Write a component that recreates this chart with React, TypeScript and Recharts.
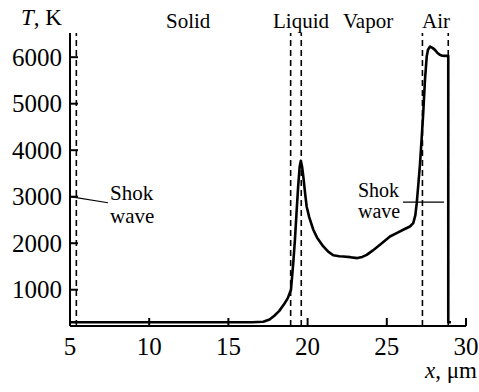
import React from "react";
import { LineChart, Line, XAxis, YAxis, ReferenceLine } from "recharts";

// Temperature profile across the target, x in micrometres, T in kelvin
const xValues = [
  5, 10, 15, 16.5, 17.2, 17.6, 17.9, 18.2, 18.5, 18.75, 18.95, 19.1, 19.2, 19.3, 19.4, 19.5,
  19.57, 19.65, 19.73, 19.85, 19.94, 20.1, 20.36, 20.6, 20.99, 21.3, 21.62, 22.0, 22.25, 22.7,
  23.14, 23.45, 23.73, 24.1, 24.57, 25.2, 25.62, 26.1, 26.46, 26.67, 26.8, 26.89, 27.0, 27.1,
  27.2, 27.3, 27.41, 27.52, 27.6, 27.73, 27.88, 28.04, 28.2, 28.36, 28.5, 28.67, 28.88, 28.88,
  29.05,
];
const tValues = [
  300, 300, 300, 302, 310, 360, 440, 540, 680, 820, 1000, 1600, 2070, 2650, 3200, 3650,
  3770, 3650, 3430, 3050, 2790, 2560, 2290, 2120, 1930, 1820, 1740, 1720, 1715, 1700,
  1680, 1705, 1750, 1840, 1967, 2145, 2218, 2300, 2360, 2432, 2600, 2862, 3300, 3722,
  4250, 4800, 5512, 6013, 6160, 6228, 6200, 6157, 6090, 6050, 6030, 6028, 6028, 300,
  300,
];

// Phase boundaries (dashed verticals)
const boundaries = [5.4, 18.93, 19.6, 27.25, 28.88];

const xTicks = [5, 10, 15, 20, 25, 30];
const yTicks = [1000, 2000, 3000, 4000, 5000, 6000];

const regionLabels = ["Solid", "Liquid", "Vapor", "Air"];
const shockText = ["Shok", "wave"];

const data = xValues.map((x, i) => ({ x, T: tValues[i] }));

const TICK_FS = 25;

// Inward tick marks; labels inherit the page's default serif face
const YTick = (props: any) => {
  const { x, y, payload } = props;
  return (
    <g>
      <line x1={x} y1={y} x2={x + 8} y2={y} stroke="#000" strokeWidth={2} />
      <text x={x - 8} y={y} dy="0.34em" textAnchor="end" fontSize={TICK_FS} fill="#000">
        {payload.value}
      </text>
    </g>
  );
};

const XTick = (props: any) => {
  const { x, y, payload } = props;
  return (
    <g>
      <line x1={x} y1={y} x2={x} y2={y - 8} stroke="#000" strokeWidth={2} />
      <text x={x} y={y + 29} textAnchor="middle" fontSize={TICK_FS} fill="#000">
        {payload.value}
      </text>
    </g>
  );
};

const dash = { stroke: "#000", strokeWidth: 1.6, strokeDasharray: "6 4" };

// Text placed by its baseline (line-height equals font size)
const Note = ({ left, right, base, size, children }: any) => (
  <div
    style={{
      position: "absolute",
      left,
      right,
      top: base - 0.84 * size,
      fontSize: size,
      lineHeight: `${size}px`,
      whiteSpace: "nowrap",
      color: "#000",
      pointerEvents: "none",
    }}
  >
    {children}
  </div>
);

export default function App() {
  return (
    <div style={{ position: "absolute", left: 0, top: 0, width: 479, height: 392, background: "#fff" }}>
      <LineChart width={479} height={392} data={data} margin={{ top: 33, right: 13, left: 0, bottom: 0 }}>
        <XAxis
          dataKey="x"
          type="number"
          domain={[5, 30]}
          ticks={xTicks}
          interval={0}
          height={66}
          tickSize={0}
          tickMargin={0}
          tick={XTick}
          axisLine={{ stroke: "#000", strokeWidth: 2 }}
          tickLine={false}
          allowDataOverflow
        />
        <YAxis
          type="number"
          domain={[220, 6520]}
          ticks={yTicks}
          interval={0}
          width={70}
          tickSize={0}
          tickMargin={0}
          tick={YTick}
          axisLine={{ stroke: "#000", strokeWidth: 2 }}
          tickLine={false}
          allowDataOverflow
        />
        {boundaries.map((b) => (
          <ReferenceLine key={b} x={b} {...dash} />
        ))}
        <ReferenceLine
          segment={[
            { x: 5, y: 3000 },
            { x: 7.4, y: 2870 },
          ]}
          stroke="#000"
          strokeWidth={1.2}
        />
        <ReferenceLine
          segment={[
            { x: 26.02, y: 2885 },
            { x: 28.61, y: 2885 },
          ]}
          stroke="#000"
          strokeWidth={1.2}
        />
        <Line
          type="linear"
          dataKey="T"
          stroke="#000"
          strokeWidth={2.6}
          dot={false}
          isAnimationActive={false}
          strokeLinejoin="round"
        />
      </LineChart>
      <Note left={21} base={25} size={23}>
        <i>T</i>, K
      </Note>
      <Note left={166} base={29} size={21}>{regionLabels[0]}</Note>
      <Note left={273} base={29} size={21}>{regionLabels[1]}</Note>
      <Note left={343} base={29} size={21}>{regionLabels[2]}</Note>
      <Note left={422} base={29} size={21}>{regionLabels[3]}</Note>
      <Note left={110} base={201} size={21}>{shockText[0]}</Note>
      <Note left={110} base={224} size={21}>{shockText[1]}</Note>
      <Note left={358} base={197} size={20}>{shockText[0]}</Note>
      <Note left={358} base={218} size={20}>{shockText[1]}</Note>
      <Note right={2} base={378} size={23}>
        <i>x</i>, μm
      </Note>
    </div>
  );
}
